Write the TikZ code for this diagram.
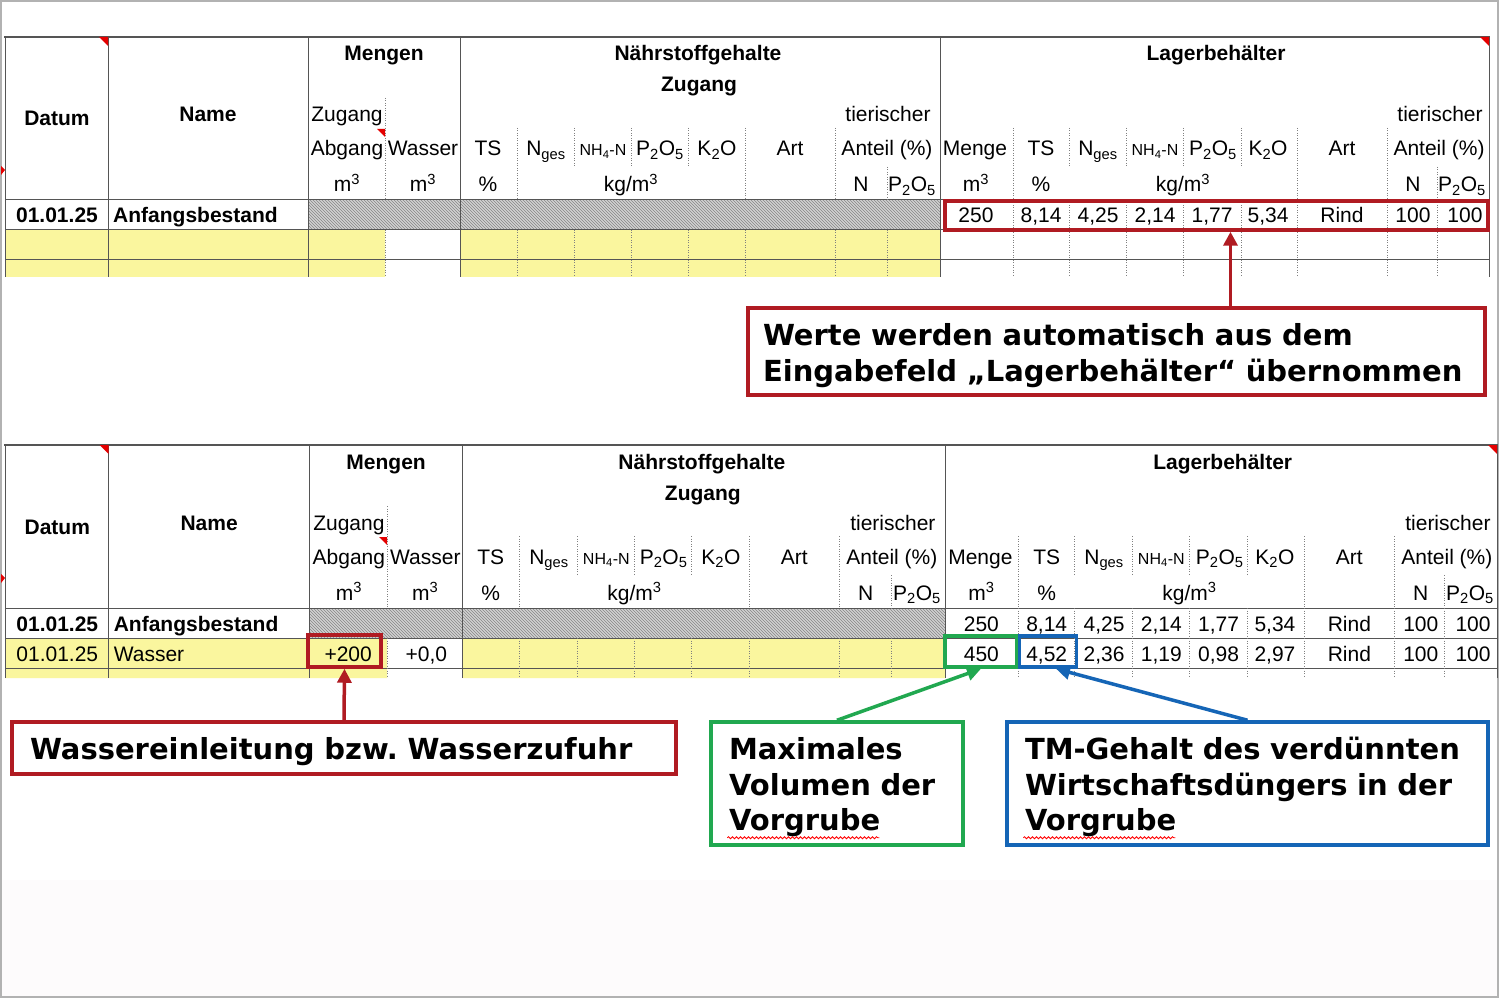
\documentclass[tikz,border=0pt]{standalone}
\usepackage{fontspec}
\setmainfont{Liberation Sans}
\newfontfamily\notefont{DejaVu Sans}
\usetikzlibrary{arrows.meta,patterns,decorations.pathmorphing}
\definecolor{cellyellow}{RGB}{250,246,158}
\definecolor{markred}{RGB}{176,27,34}
\definecolor{markgreen}{RGB}{33,168,80}
\definecolor{markblue}{RGB}{21,101,182}
\definecolor{gridgray}{RGB}{85,85,85}
\definecolor{paper}{RGB}{253,251,252}
\newcommand\Nges{N\textsubscript{ges}}
\newcommand\NHN{{\fontsize{16}{18}\selectfont NH\textsubscript{4}-N}}
\newcommand\Pox{P\textsubscript{2}O\textsubscript{5}}
\newcommand\Kox{K\textsubscript{2}O}
\newcommand\cbm{m\textsuperscript{3}}
\newcommand\lift{\rule{0pt}{30pt}}
\tikzstyle{cell}=[font=\fontsize{21}{24}\selectfont,inner sep=0pt,anchor=base]
\tikzstyle{bcell}=[cell,font=\fontsize{21}{24}\selectfont\bfseries]
\tikzstyle{grid}=[draw=gridgray,line width=1pt]
\tikzstyle{dots}=[draw=gray,line width=1pt,dash pattern=on 1pt off 1.5pt]
\tikzstyle{hatch}=[pattern=north west lines,pattern color=gray!95]
\tikzstyle{flag}=[fill=red!90!black]
\tikzstyle{hl}=[draw,line width=3.5pt,inner sep=0pt]
\tikzstyle{note}=[draw,line width=3.5pt,fill=white,inner xsep=18pt,inner ysep=0pt,align=left,font=\notefont\bfseries\fontsize{29}{35.5}\selectfont]
\tikzstyle{ptr}=[line width=3.5pt,-{Triangle[length=14pt,width=14pt]}]
\tikzstyle{squiggle}=[draw=red,line width=0.8pt,decorate,decoration={snake,amplitude=1pt,segment length=4pt}]
\newcommand\sheet[1]{%
  \fill[cellyellow] (5,230) rectangle (385,#1) (460,230) rectangle (940,#1);
  \fill[gray!35] (308,200) rectangle (940,230);
  \path[hatch] (308,200) rectangle (940,230);
  \foreach \y in {200,230,260} \draw[grid] (5,\y) -- (1489,\y);
  \foreach \x in {5,108,308,460,940,1489} \draw[grid] (\x,37) -- (\x,#1);
  \draw[gridgray,line width=2pt] (4,37) -- (1490,37);
  \foreach \x/\a/\b/\c in {385/98/200/230,517/128/200/230,574/128/167/230,631/128/167/230,688/128/167/230,
      745/128/200/230,835/128/200/230,887/167/200/230,1013/128/200/200,1069/128/167/200,1126/128/167/200,
      1183/128/167/200,1241/128/167/200,1297/128/200/200,1387/128/200/200,1437/167/200/200}
    \draw[dots] (\x,\a) -- (\x,\b) (\x,\c) -- (\x,#1);
  \fill[flag] (99,37) -- (108,37) -- (108,46) -- cycle;
  \fill[flag] (377,129) -- (385,129) -- (385,137) -- cycle;
  \fill[flag] (1480,37) -- (1489,37) -- (1489,46) -- cycle;
  \fill[flag] (1,166) -- (5,170) -- (1,175) -- cycle;
  \foreach \x/\y/\t [count=\i] in {57/126/Datum,208/122/Name,384/61/Mengen,698/61/Nährstoffgehalte,
      699/92/Zugang,1216/61/Lagerbehälter}
    \node[bcell] (head\i) at (\x,\y) {\t};
  \foreach \x/\y/\t [count=\i] in {347/122/Zugang,347/156/Abgang,423/156/Wasser,347/192/\cbm,423/192/\cbm,
      488/156/TS,546/156/\Nges,603/156/\NHN,660/156/\Pox,717/156/\Kox,790/156/Art,888/122/tierischer,
      887/156/Anteil (\%),488/192/\%,631/192/{kg/\cbm},861/192/N,912/192/\Pox,
      975/156/Menge,1041/156/TS,1098/156/\Nges,1155/156/\NHN,1213/156/\Pox,1268/156/\Kox,1342/156/Art,
      1440/122/tierischer,1439/156/Anteil (\%),976/192/\cbm,1041/192/\%,1183/192/{kg/\cbm},1413/192/N,1462/192/\Pox}
    \node[cell] (lab\i) at (\x,\y) {\t};
  \node[bcell] (date1) at (57,223) {01.01.25};
  \node[bcell,anchor=base west] (name1) at (113,223) {Anfangsbestand};
  \foreach \x/\t [count=\i] in {976/250,1041/{8,14},1098/{4,25},1155/{2,14},1212/{1,77},1268/{5,34},
      1342/Rind,1413/100,1465/100}
    \node[cell] (stock\i) at (\x,223) {\t};
}
\begin{document}
\begin{tikzpicture}[x=1pt,y=-1pt]
\useasboundingbox (0,0) rectangle (1500,1000);
\fill[white] (0,0) rectangle (1500,1000);
\fill[paper] (1,880) rectangle (1498,997);
\draw[gray!60,line width=1.5pt] (1,1) rectangle (1498,997);
\begin{scope}[name prefix=top-]
  \sheet{277}
\end{scope}
\begin{scope}[name prefix=low-,xscale=1.0055,shift={(0,408)}]
  \sheet{270}
  \node[cell] (date2) at (57,253) {01.01.25};
  \node[cell,anchor=base west] (name2) at (113,253) {Wasser};
  \node[cell,anchor=base east] (inflow) at (370,253) {+200};
  \node[cell] (water) at (424,253) {+0,0};
  \foreach \x/\t [count=\i] in {976/450,1041/{4,52},1098/{2,36},1155/{1,19},1212/{0,98},1268/{2,97},
      1342/Rind,1413/100,1465/100}
    \node[cell] (mix\i) at (\x,253) {\t};
\end{scope}
\node[hl,draw=markred,minimum width=543pt,minimum height=29pt] (stockbox) at (1216.5,215.5) {};
\node[hl,draw=markred,minimum width=73pt,minimum height=32pt] (inflowbox) at (344.5,651) {};
\node[hl,draw=markgreen,minimum width=72pt,minimum height=31pt] (volbox) at (981,651.5) {};
\node[hl,draw=markblue,minimum width=57pt,minimum height=31pt] (tmbox) at (1048,651.5) {};
\node[note,draw=markred,inner xsep=15pt,text width=707pt,minimum height=87pt] (autonote) at (1116.5,351.5)
  {\lift Werte werden automatisch aus dem\\Eingabefeld „Lagerbehälter“ übernommen};
\node[note,draw=markred,text width=628pt,minimum height=52pt] (waternote) at (344,748)
  {\lift Wassereinleitung bzw.\ Wasserzufuhr};
\node[note,draw=markgreen,text width=216pt,minimum height=123pt] (volnote) at (837,783.5)
  {\lift Maximales\\Volumen der\\Vorgrube};
\node[note,draw=markblue,text width=445pt,minimum height=123pt] (tmnote) at (1247.5,783.5)
  {\lift TM-Gehalt des verdünnten\\Wirtschaftsdüngers in der\\Vorgrube};
\coordinate (autotip) at ([xshift=14pt]stockbox.south);
\draw[squiggle] ([shift={(18,-9)}]volnote.south west) -- ++(152,0);
\draw[squiggle] ([shift={(18,-9)}]tmnote.south west) -- ++(152,0);
\draw[ptr,markred] (autonote.north -| autotip) -- (autotip);
\draw[ptr,markred] (waternote.north) -- (inflowbox.south);
\draw[ptr,markgreen] (volnote.north) -- (volbox.south);
\draw[ptr,markblue] (tmnote.north) -- ([xshift=8pt]tmbox.south);
\end{tikzpicture}
\end{document}
